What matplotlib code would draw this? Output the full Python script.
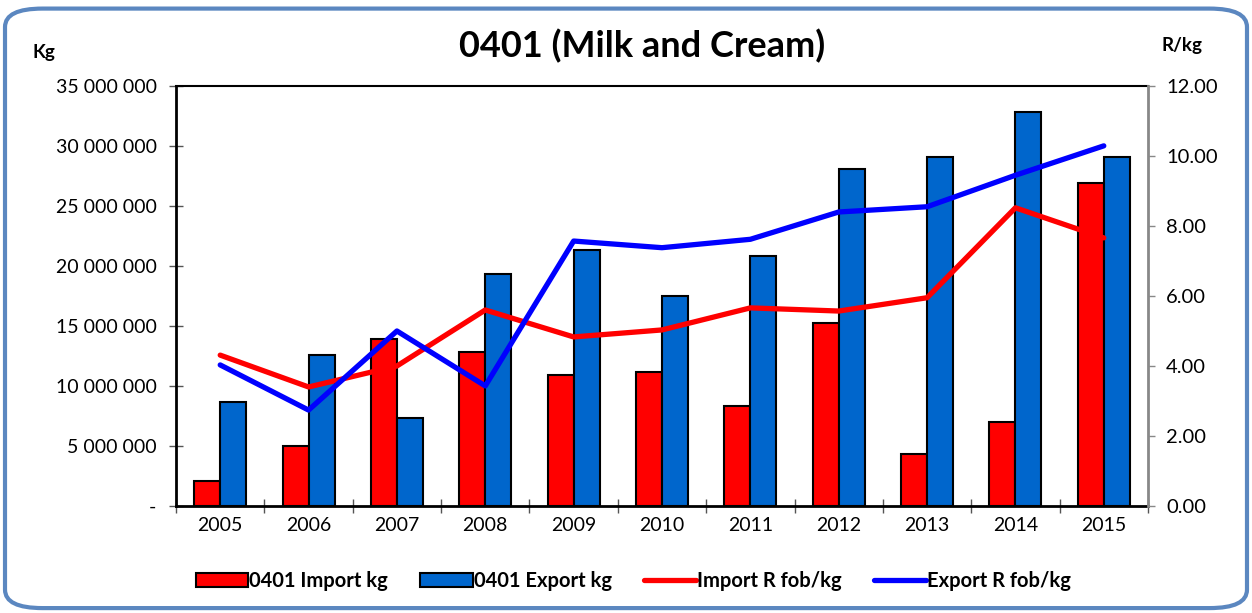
import matplotlib.pyplot as plt
import numpy as np
from matplotlib.patches import FancyBboxPatch
from matplotlib.ticker import FuncFormatter

plt.rcParams['font.family'] = ['Lato', 'DejaVu Sans']

years = ['2005', '2006', '2007', '2008', '2009', '2010', '2011', '2012', '2013', '2014', '2015']
import_kg = [2.1e6, 5.0e6, 13.9e6, 12.8e6, 10.9e6, 11.15e6, 8.3e6, 15.25e6, 4.3e6, 7.0e6, 26.9e6]
export_kg = [8.7e6, 12.6e6, 7.3e6, 19.3e6, 21.3e6, 17.5e6, 20.8e6, 28.1e6, 29.1e6, 32.8e6, 29.1e6]
import_r = [4.31, 3.40, 4.00, 5.60, 4.83, 5.03, 5.66, 5.57, 5.95, 8.52, 7.66]
export_r = [4.03, 2.74, 5.00, 3.43, 7.57, 7.38, 7.62, 8.40, 8.55, 9.45, 10.29]


def kg_fmt(v, pos):
    if v == 0:
        return '-'
    return '{:,.0f}'.format(v).replace(',', ' ')


def main():
    fig = plt.figure(figsize=(12.52, 6.13), dpi=100)
    # rounded frame
    frame = FancyBboxPatch((0.004, 0.008), 0.992, 0.978,
                           boxstyle='round,pad=0,rounding_size=0.03',
                           transform=fig.transFigure, fill=False,
                           edgecolor='#5B87C0', linewidth=3)
    fig.patches.append(frame)

    ax = fig.add_axes([0.1406, 0.1746, 0.7763, 0.6851])
    x = np.arange(len(years))
    w = 0.295
    ax.bar(x - w / 2, import_kg, w, color='#FF0000', edgecolor='black', linewidth=1.5,
           label='0401 Import kg', zorder=2)
    ax.bar(x + w / 2, export_kg, w, color='#0066CC', edgecolor='black', linewidth=1.5,
           label='0401 Export kg', zorder=2)
    ax.set_ylim(0, 35e6)
    ax.set_xlim(-0.5, len(years) - 0.5)
    ax.set_yticks(np.arange(0, 35e6 + 1, 5e6))
    ax.yaxis.set_major_formatter(FuncFormatter(kg_fmt))
    ax.set_xticks(np.arange(-0.5, len(years), 1.0))
    ax.set_xticklabels([])
    ax.set_xticks(x, minor=True)
    ax.set_xticklabels(years, minor=True)
    ax.tick_params(axis='x', which='minor', length=0, labelsize=14, pad=8)
    ax.tick_params(axis='x', which='major', direction='inout', length=10, width=1, color='#555555')
    ax.tick_params(axis='y', direction='inout', length=10, width=1, color='#555555',
                   labelsize=14, pad=9)
    for s in ['left', 'bottom']:
        ax.spines[s].set_linewidth(2)
    ax.spines['top'].set_linewidth(1.5)
    ax.spines['right'].set_visible(False)

    ax2 = ax.twinx()
    ax2.plot(x, import_r, color='#FF0000', linewidth=3.8, label='Import R fob/kg',
             solid_capstyle='round', zorder=3)
    ax2.plot(x, export_r, color='#0000FF', linewidth=3.8, label='Export R fob/kg',
             solid_capstyle='round', zorder=3)
    ax2.set_ylim(0, 12)
    ax2.set_yticks(np.arange(0, 12.1, 2))
    ax2.yaxis.set_major_formatter(FuncFormatter(lambda v, p: '{:.2f}'.format(v)))
    ax2.tick_params(axis='y', direction='out', length=5, width=1, color='#888888',
                    labelsize=14.5, pad=8)
    ax2.spines['right'].set_color('#888888')
    ax2.spines['right'].set_linewidth(2)
    for s in ['left', 'top', 'bottom']:
        ax2.spines[s].set_visible(False)

    fig.text(0.513, 0.925, '0401 (Milk and Cream)', ha='center', va='center',
             fontsize=26, fontweight='bold')
    fig.text(0.026, 0.915, 'Kg', ha='left', va='center', fontsize=13.5, fontweight='bold')
    fig.text(0.928, 0.925, 'R/kg', ha='left', va='center', fontsize=13.5, fontweight='bold')

    h1, l1 = ax.get_legend_handles_labels()
    h2, l2 = ax2.get_legend_handles_labels()
    fig.legend(h1 + h2, l1 + l2, loc='center', bbox_to_anchor=(0.506, 0.052),
               ncol=4, frameon=False, handlelength=2.6, handletextpad=0.05,
               columnspacing=1.6, prop={'weight': 'bold', 'size': 14.5})

    fig.savefig('out.png', dpi=100)


if __name__ == '__main__':
    main()
